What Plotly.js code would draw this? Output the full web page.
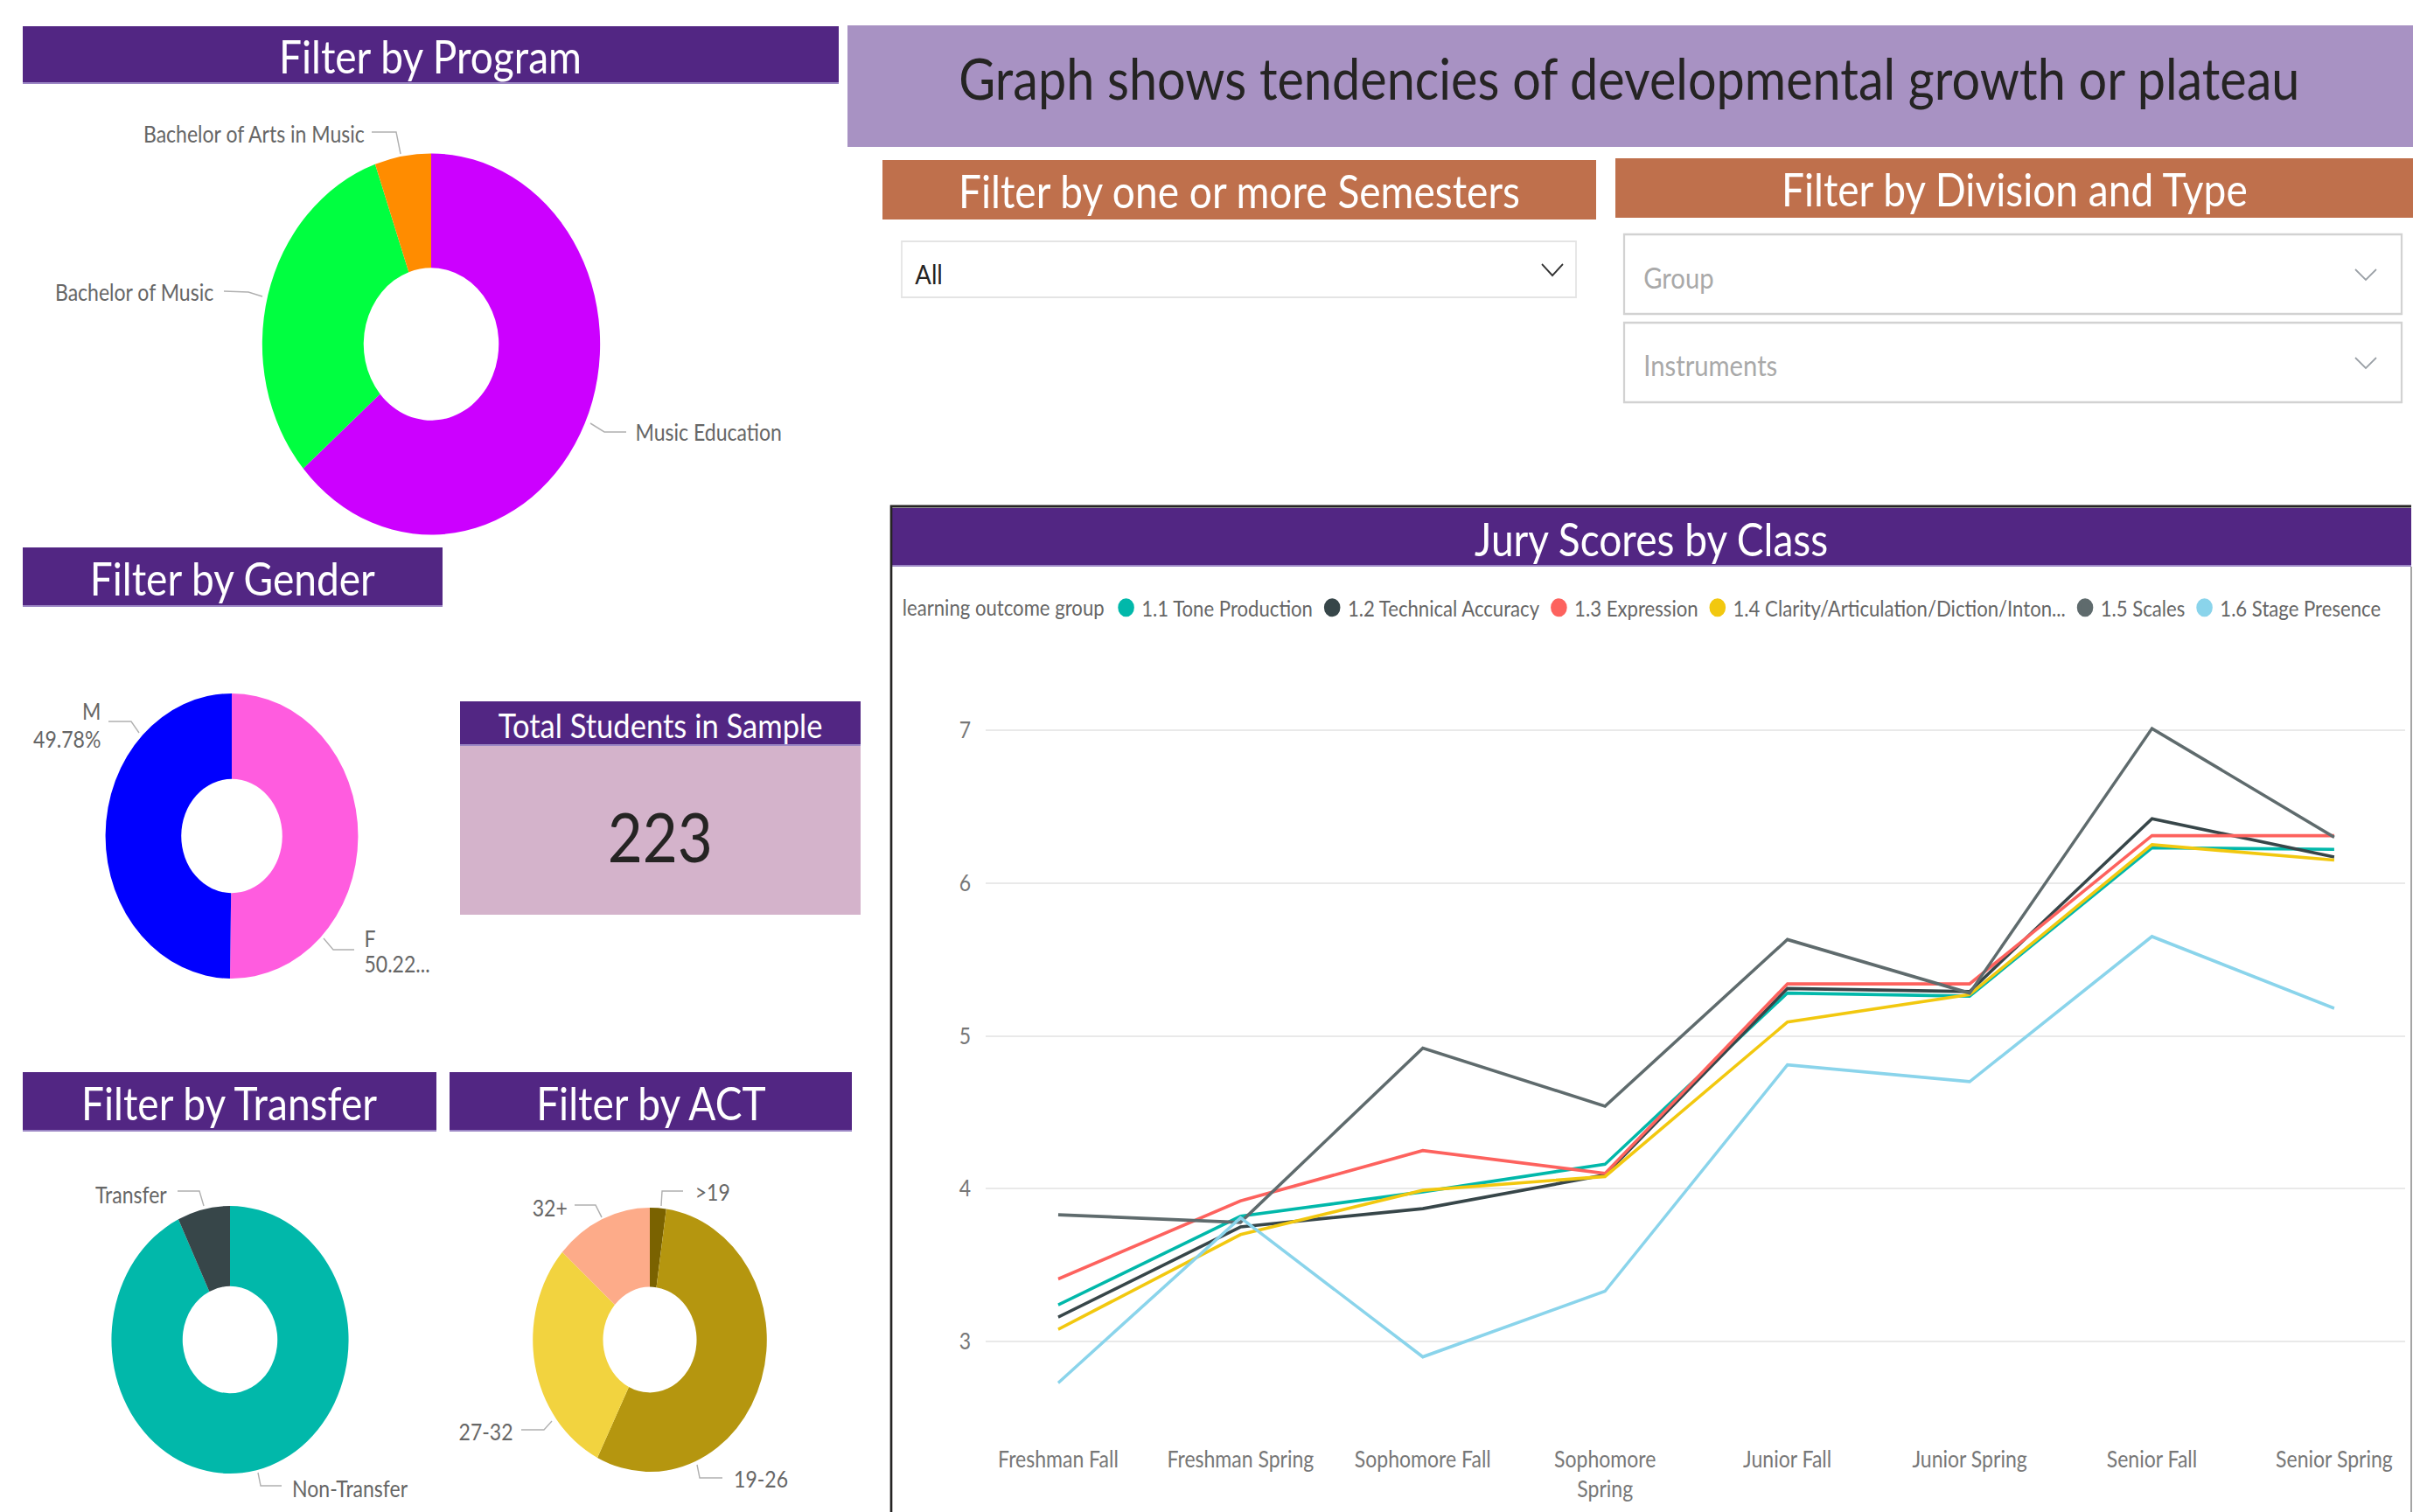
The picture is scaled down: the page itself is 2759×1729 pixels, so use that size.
<!DOCTYPE html>
<html><head><meta charset="utf-8">
<script src="https://cdn.plot.ly/plotly-3.0.1.min.js"></script>
<style>
html,body{margin:0;padding:0;overflow:hidden;background:#fff;}
#chart{width:3114px;height:1729px;transform:scaleX(0.886);transform-origin:0 0;}
</style>
</head><body><div id="chart"></div>
<script>
// ---------- DATA ----------
const programLabels = ['Music Education', 'Bachelor of Music', 'Bachelor of Arts in Music'];
const programValues = [142, 69, 12];
const programColors = ['#cc00ff', '#00ff40', '#ff8c00'];

const genderLabels = ['F', 'M'];
const genderValues = [112, 111];
const genderColors = ['#ff5cdf', '#0000ff'];

const transferLabels = ['Non-Transfer', 'Transfer'];
const transferValues = [207, 16];
const transferColors = ['#01b8aa', '#374649'];

const actLabels = ['>19', '19-26', '27-32', '32+'];
const actValues = [5, 123, 65, 30];
const actColors = ['#7a6200', '#b5960f', '#f2d33f', '#fdab89'];

const classes = ['Freshman Fall', 'Freshman Spring', 'Sophomore Fall', 'Sophomore Spring',
                 'Junior Fall', 'Junior Spring', 'Senior Fall', 'Senior Spring'];
const classTickLabels = ['Freshman Fall', 'Freshman Spring', 'Sophomore Fall', 'Sophomore<br>Spring',
                 'Junior Fall', 'Junior Spring', 'Senior Fall', 'Senior Spring'];
const yTicks = [3, 4, 5, 6, 7];

const outcomeNames = ['1.1 Tone Production', '1.2 Technical Accuracy', '1.3 Expression',
                      '1.4 Clarity/Articulation/Diction/Inton...', '1.5 Scales', '1.6 Stage Presence'];
const toneProduction    = [3.24, 3.82, 3.98, 4.16, 5.28, 5.26, 6.23, 6.22];
const technicalAccuracy = [3.16, 3.75, 3.87, 4.09, 5.31, 5.29, 6.42, 6.17];
const expression        = [3.41, 3.92, 4.25, 4.10, 5.34, 5.34, 6.31, 6.31];
const clarity           = [3.08, 3.70, 3.99, 4.08, 5.09, 5.27, 6.25, 6.15];
const scales            = [3.83, 3.78, 4.92, 4.54, 5.63, 5.28, 7.01, 6.30];
const stagePresence     = [2.73, 3.81, 2.90, 3.33, 4.81, 4.70, 5.65, 5.18];
const outcomeColors = ['#01b8aa', '#374649', '#fd625e', '#f2c80f', '#5f6b6d', '#8ad4eb'];

// ---------- HELPERS ----------
const W = 2759, H = 1729;
const px = x => x / W;
const py = y => 1 - y / H;
const FONT = 'Segoe UI, Lato, Open Sans, sans-serif';
const LABEL_FONT = 'Lato, Roboto, sans-serif';
const PURPLE = '#522683', ORANGE = '#bf704c';

const shapes = [];
const annotations = [];

function rect(x0, y0, x1, y1, fill, lineColor, lineWidth) {
  shapes.push({type:'rect', xref:'paper', yref:'paper', x0:px(x0), x1:px(x1), y0:py(y1), y1:py(y0),
    fillcolor: fill, line:{color: lineColor || 'rgba(0,0,0,0)', width: lineWidth || 0}, layer:'below'});
}
function text(x, y, t, size, color, anchor, weight) {
  annotations.push({xref:'paper', yref:'paper', x:px(x), y:py(y), text:t, showarrow:false,
    xanchor: anchor || 'center', yanchor:'middle',
    font:{family:FONT, size:size, color:color, weight: weight || 400}});
}
function path(points, color, width) {
  const d = points.map((p, i) => (i ? 'L' : 'M') + px(p[0]) + ',' + py(p[1])).join(' ');
  shapes.push({type:'path', xref:'paper', yref:'paper', path:d, line:{color:color, width:width}, layer:'above'});
}
function header(x0, y0, x1, y1, fill, t, size) {
  rect(x0, y0, x1, y1, fill);
  if (fill === PURPLE) path([[x0, y1 - 1], [x1, y1 - 1]], '#9b86c4', 2);
  text((x0 + x1) / 2, (y0 + y1) / 2 + 1, t, size, '#ffffff');
}
function pieLabel(x, y, t, anchor) {
  annotations.push({xref:'paper', yref:'paper', x:px(x), y:py(y), text:t, showarrow:false,
    xanchor:anchor, yanchor:'middle', font:{family:LABEL_FONT, size:26, color:'#666666'}});
}
function donut(labels, values, colors, cx, cy, r) {
  return {type:'pie', labels:labels, values:values, marker:{colors:colors, line:{width:0}},
    hole:0.4, sort:false, direction:'clockwise', rotation:0, textinfo:'none',
    hoverinfo:'label+value+percent', showlegend:false,
    domain:{x:[px(cx - r), px(cx + r)], y:[py(cy + r), py(cy - r)]}};
}
const pct = (v, arr) => (100 * v / arr.reduce((a, b) => a + b, 0)).toFixed(2);

// ---------- PANELS ----------
header(26, 30, 959, 96, PURPLE, 'Filter by Program', 52);
header(26, 626, 506, 694, PURPLE, 'Filter by Gender', 52);
header(26, 1226, 499, 1294, PURPLE, 'Filter by Transfer', 52);
header(514, 1226, 974, 1294, PURPLE, 'Filter by ACT', 52);

// Total students card
rect(526, 853, 984, 1046, '#d4b3cb');
header(526, 802, 984, 853, PURPLE, 'Total Students in Sample', 39);
text(755, 956, String(genderValues.reduce((a, b) => a + b, 0)), 78, '#252423');

// Banner
rect(969, 29, 2759, 168, '#a892c3');
text(1863, 89, 'Graph shows tendencies of developmental growth or plateau', 65, '#252423', 'center', 400);

// Orange headers
header(1009, 183, 1825, 251, ORANGE, 'Filter by one or more Semesters', 52);
header(1847, 181, 2759, 249, ORANGE, 'Filter by Division and Type', 52);

// Dropdowns
rect(1031, 276, 1802, 340, '#ffffff', '#e4e4e4', 2);
text(1045, 313, 'All', 31, '#252423', 'left');
path([[1763, 302], [1775, 315], [1787, 302]], '#333333', 2);

rect(1857, 268, 2746, 359, '#ffffff', '#d2d2d2', 2.5);
text(1877, 317, 'Group', 33, '#a9a9a9', 'left');
path([[2693, 308], [2705, 320], [2717, 308]], '#9aa0a6', 2);

rect(1857, 369, 2746, 460, '#ffffff', '#d2d2d2', 2.5);
text(1877, 417, 'Instruments', 33, '#a9a9a9', 'left');
path([[2693, 409], [2705, 421], [2717, 409]], '#9aa0a6', 2);

// Line chart panel
header(1019, 581, 2757, 648, PURPLE, 'Jury Scores by Class', 52);
path([[1019, 1729], [1019, 579], [2757, 579]], '#252423', 3);
path([[2757, 648], [2757, 1729]], '#9a9a9a', 2);

// ---------- PIE LABELS ----------
const LC = '#b0b0b0';
pieLabel(418, 153, programLabels[2], 'right');
path([[425, 151], [453, 151], [458, 176]], LC, 1.6);
pieLabel(246, 334, programLabels[1], 'right');
path([[256, 333], [284, 334], [300, 339]], LC, 1.6);
pieLabel(725, 494, programLabels[0], 'left');
path([[675, 484], [691, 494], [716, 494]], LC, 1.6);

pieLabel(117, 813, genderLabels[1], 'right');
pieLabel(117, 845, pct(genderValues[1], genderValues) + '%', 'right');
path([[124, 825], [150, 825], [159, 838]], LC, 1.6);
pieLabel(415, 1073, genderLabels[0], 'left');
pieLabel(415, 1102, pct(genderValues[0], genderValues).slice(0, 5) + '...', 'left');
path([[370, 1073], [381, 1086], [405, 1086]], LC, 1.6);

pieLabel(193, 1366, transferLabels[1], 'right');
path([[203, 1362], [228, 1362], [233, 1379]], LC, 1.6);
pieLabel(332, 1702, transferLabels[0], 'left');
path([[295, 1684], [298, 1699], [322, 1699]], LC, 1.6);

pieLabel(793, 1363, actLabels[0], 'left');
path([[756, 1379], [757, 1362], [781, 1362]], LC, 1.6);
pieLabel(650, 1381, actLabels[3], 'right');
path([[657, 1378], [681, 1378], [688, 1392]], LC, 1.6);
pieLabel(588, 1637, actLabels[2], 'right');
path([[596, 1635], [622, 1635], [631, 1625]], LC, 1.6);
pieLabel(837, 1691, actLabels[1], 'left');
path([[797, 1675], [800, 1690], [826, 1690]], LC, 1.6);

// ---------- TRACES ----------
const traces = [
  donut(programLabels, programValues, programColors, 493, 393.5, 218),
  donut(genderLabels, genderValues, genderColors, 265, 956, 163),
  donut(transferLabels, transferValues, transferColors, 263, 1532, 153),
  donut(actLabels, actValues, actColors, 743, 1532, 151)
];

const series = [toneProduction, technicalAccuracy, expression, clarity, scales, stagePresence];
series.forEach((ys, i) => {
  traces.push({type:'scatter', mode:'lines', x:classes, y:ys, name:outcomeNames[i],
    line:{color:outcomeColors[i], width:3.7}, showlegend:false, legendgroup:'g' + i,
    xaxis:'x', yaxis:'y'});
});
series.forEach((ys, i) => {
  traces.push({type:'scatter', mode:'markers', x:[null], y:[null], name:outcomeNames[i],
    marker:{color:outcomeColors[i], size:16, symbol:'circle', line:{color:outcomeColors[i], width:5}},
    showlegend:true, legendgroup:'g' + i, xaxis:'x', yaxis:'y', hoverinfo:'skip'});
});

const layout = {
  width: 3114, height: 1729,
  margin: {l:0, r:0, t:0, b:0, pad:0},
  paper_bgcolor: '#ffffff', plot_bgcolor: 'rgba(0,0,0,0)',
  font: {family: FONT, color:'#666666'},
  showlegend: true,
  legend: {orientation:'h', x:px(1030), xanchor:'left', y:py(695), yanchor:'middle',
    font:{family:FONT, size:25, color:'#666666'}, itemwidth:30, bgcolor:'rgba(0,0,0,0)',
    itemsizing:'trace',
    title:{text:'learning outcome group', side:'left', font:{family:FONT, size:25, color:'#666666'}}},
  xaxis: {type:'category', domain:[px(1127), px(2750)], range:[-0.398, 7.389],
    tickmode:'array', tickvals:classes, ticktext:classTickLabels,
    showgrid:false, zeroline:false, showline:false, ticks:'', ticklabelstandoff:12,
    tickfont:{family:FONT, size:26, color:'#777777'}, fixedrange:true},
  yaxis: {domain:[py(1639), py(765)], range:[2.4, 7.4], tickmode:'array', tickvals:yTicks,
    showgrid:true, gridcolor:'#e9e9e9', gridwidth:2, zeroline:false, showline:false, ticks:'',
    ticklabelstandoff:18, tickfont:{family:FONT, size:26, color:'#777777'}, fixedrange:true},
  shapes: shapes,
  annotations: annotations,
  hovermode: false
};

Plotly.newPlot('chart', traces, layout, {staticPlot:true, displayModeBar:false});
</script>
</body></html>
